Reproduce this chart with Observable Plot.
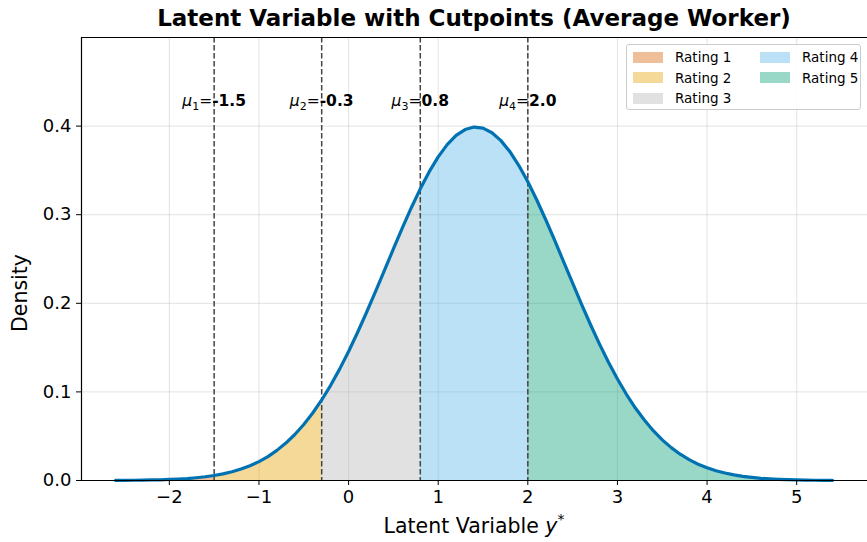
<!DOCTYPE html>
<html><head><meta charset="utf-8">
<script src="https://cdn.jsdelivr.net/npm/d3@7"></script>
<script src="https://cdn.jsdelivr.net/npm/@observablehq/plot@0.6"></script>
<style>
body{margin:0;background:#fff;font-family:"DejaVu Sans",sans-serif;}
#wrap{position:relative;width:867px;height:542px;overflow:hidden;}
#title{height:34px;line-height:37px;padding-left:81px;text-align:center;font-weight:bold;font-size:23px;color:#000;white-space:nowrap;}
#legend{position:absolute;left:626px;top:44px;width:233px;height:64px;border:1px solid #ccc;border-radius:3px;background:rgba(255,255,255,0.85);font-size:13.5px;}
.item{position:absolute;display:flex;align-items:center;height:18px;}
.sw{width:30px;height:11px;margin-right:12px;}
</style></head>
<body><div id="wrap"><div id="title">Latent Variable with Cutpoints (Average Worker)</div><div id="chart"></div><div id="legend"></div></div>
<script>
// latent variable grid and density values
const xs = [-2.6,-2.5,-2.4,-2.3,-2.2,-2.1,-2.0,-1.9,-1.8,-1.7,-1.6,-1.5,-1.4,-1.3,-1.2,-1.1,-1.0,-0.9,-0.8,-0.7,-0.6,-0.5,-0.4,-0.3,-0.2,-0.1,0.0,0.1,0.2,0.3,0.4,0.5,0.6,0.7,0.8,0.9,1.0,1.1,1.2,1.3,1.4,1.5,1.6,1.7,1.8,1.9,2.0,2.1,2.2,2.3,2.4,2.5,2.6,2.7,2.8,2.9,3.0,3.1,3.2,3.3,3.4,3.5,3.6,3.7,3.8,3.9,4.0,4.1,4.2,4.3,4.4,4.5,4.6,4.7,4.8,4.9,5.0,5.1,5.2,5.3,5.4];
const density = [0.0001,0.0002,0.0003,0.0004,0.0006,0.0008,0.0012,0.0016,0.0022,0.0031,0.0042,0.0056,0.0075,0.0099,0.0129,0.0167,0.0213,0.0270,0.0340,0.0422,0.0519,0.0632,0.0762,0.0909,0.1074,0.1257,0.1456,0.1670,0.1896,0.2131,0.2372,0.2613,0.2851,0.3079,0.3292,0.3486,0.3653,0.3791,0.3895,0.3961,0.3989,0.3977,0.3925,0.3836,0.3712,0.3555,0.3372,0.3166,0.2943,0.2709,0.2468,0.2227,0.1989,0.1758,0.1540,0.1334,0.1145,0.0973,0.0818,0.0682,0.0562,0.0459,0.0371,0.0297,0.0235,0.0184,0.0143,0.0110,0.0084,0.0063,0.0047,0.0035,0.0025,0.0018,0.0013,0.0009,0.0007,0.0005,0.0003,0.0002,0.0002];
const cutpoints = [-1.5,-0.3,0.8,2.0];
const cutNames = ["1","2","3","4"];
const ratings = ["Rating 1","Rating 2","Rating 3","Rating 4","Rating 5"];
const ratingColors = ["#D55E00","#E69F00","#b3b3b3","#56B4E9","#009E73"];
const xTicks = [-2,-1,0,1,2,3,4,5];
const yTicks = [0,0.1,0.2,0.3,0.4];
const xDomain = [-2.98,5.79];
const yDomain = [0,0.5];

const curve = xs.map((x,i)=>({x, y: density[i]}));
const bounds = [-Infinity, ...cutpoints, Infinity];
const areas = ratings.map((r,i)=>Plot.areaY(curve.filter(d=>d.x>=bounds[i]-1e-9 && d.x<=bounds[i+1]+1e-9),
  {x:"x", y:"y", fill: ratingColors[i], fillOpacity:0.4}));
const cutData = cutpoints.map((c,i)=>({c, label:`μ${cutNames[i]}=${c.toFixed(1)}`, n:cutNames[i], v:c.toFixed(1)}));

const chart = Plot.plot({
  width:867, height:508,
  marginTop:3, marginBottom:62, marginLeft:81, marginRight:0,
  style:{fontFamily:"DejaVu Sans, sans-serif", fontSize:"18px", color:"#000", background:"#fff"},
  x:{domain:xDomain},
  y:{domain:yDomain},
  marks:[
    Plot.gridX(xTicks,{stroke:"#b0b0b0", strokeOpacity:0.35, strokeWidth:1}),
    Plot.gridY(yTicks,{stroke:"#b0b0b0", strokeOpacity:0.35, strokeWidth:1}),
    ...areas,
    Plot.ruleX(cutData,{x:"c", stroke:"#444", strokeWidth:1.5, strokeDasharray:"5.5,2.5"}),
    Plot.line(curve,{x:"x", y:"y", stroke:"#0072B2", strokeWidth:3.2}),
    Plot.text(cutData,{x:"c", y:()=>0.428, text:"label", fontSize:15.5, fill:"#000"}),
    Plot.axisX(xTicks,{tickSize:5, tickPadding:5, fontSize:18, label:null, stroke:"#000"}),
    Plot.axisY(yTicks,{tickSize:5, tickPadding:5, fontSize:18, tickFormat:d3.format(".1f"), label:null, stroke:"#000"}),
    Plot.ruleY([yDomain[0]],{stroke:"#000", strokeWidth:1.2}),
    Plot.ruleY([yDomain[1]],{stroke:"#000", strokeWidth:1.2}),
    Plot.ruleX([xDomain[0]],{stroke:"#000", strokeWidth:1.2})
  ]
});
document.getElementById("chart").appendChild(chart);

// rich text for cutpoint labels
const svg = d3.select(chart);
svg.selectAll("g[aria-label='text'] text").each(function(d,i){
  const t = d3.select(this);
  const cd = cutData[i];
  if(!cd) return;
  t.text(null);
  t.append("tspan").attr("font-style","italic").text("μ");
  t.append("tspan").attr("font-size",11).attr("dy",3.5).text(cd.n);
  t.append("tspan").attr("dy",-3.5).text("=");
  t.append("tspan").attr("font-weight","bold").text(cd.v);
});

// axis labels
svg.append("text").attr("transform","translate(27,259) rotate(-90)").attr("text-anchor","middle")
  .attr("font-size",20.5).attr("fill","#000").text("Density");
const xl = svg.append("text").attr("x",474).attr("y",499).attr("text-anchor","middle").attr("font-size",20.5).attr("fill","#000");
xl.append("tspan").text("Latent Variable ");
xl.append("tspan").attr("font-style","italic").text("y");
xl.append("tspan").attr("font-size",14).attr("dy",-9).text("*");

// legend
const leg = document.getElementById("legend");
ratings.forEach((r,i)=>{
  const col = i<3?0:1, row = i<3?i:i-3;
  const it = document.createElement("div");
  it.className="item";
  it.style.left=(col===0?6:133)+"px";
  it.style.top=(3+row*20.5)+"px";
  const sw=document.createElement("div"); sw.className="sw";
  sw.style.background=ratingColors[i]; sw.style.opacity=0.4;
  const lb=document.createElement("span"); lb.textContent=r;
  it.appendChild(sw); it.appendChild(lb); leg.appendChild(it);
});
</script></body></html>
